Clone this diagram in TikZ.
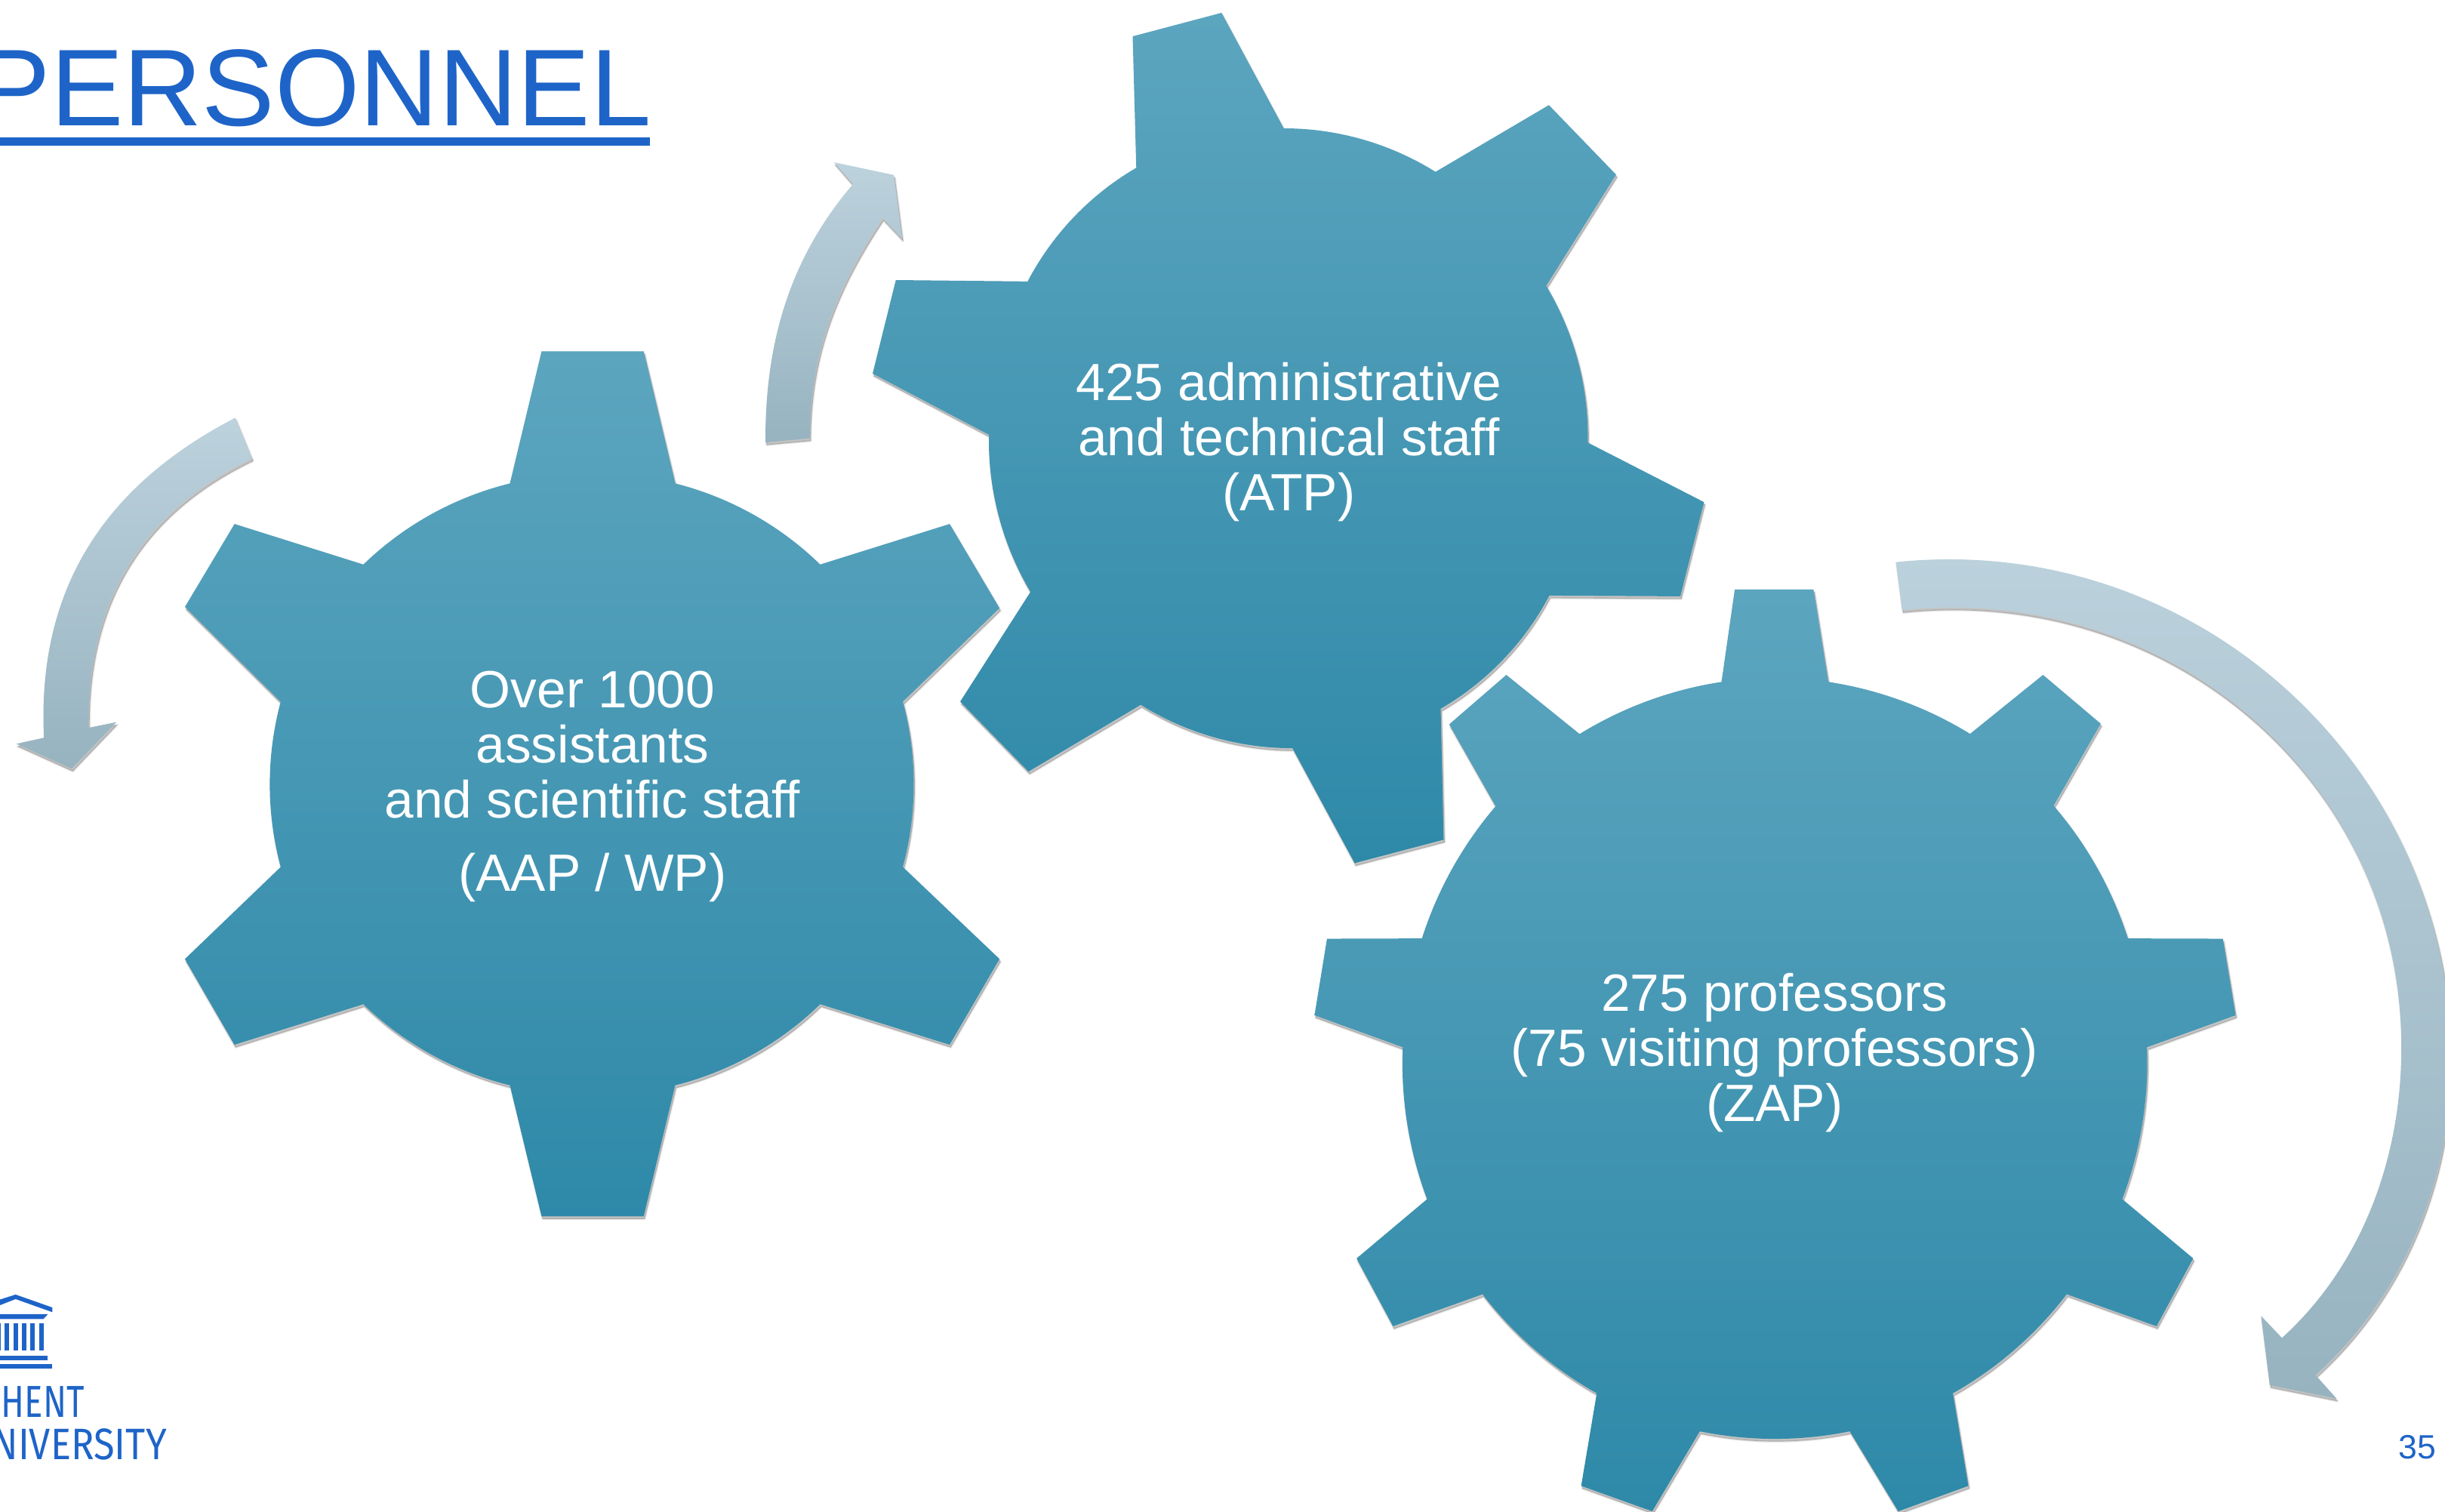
\documentclass[tikz,border=0pt]{standalone}
\usepackage{fontspec}
\setmainfont{Liberation Sans}
\newfontfamily\logofont{Fira Sans}
\definecolor{ugblue}{HTML}{1E64C8}
\definecolor{gtop}{HTML}{5CA5BF}
\definecolor{gmid}{HTML}{399ABB}
\definecolor{gbot}{HTML}{2E89A8}
\definecolor{atop}{HTML}{BCD2DD}
\definecolor{amid}{HTML}{AFC9D6}
\definecolor{abot}{HTML}{97B3C0}
\tikzset{
  arcA/.style={bend left=15,looseness=.87},
  arcB/.style={bend left=16,looseness=.87},
  arcC/.style={bend left=11.5,looseness=.86},
  gearfill/.style={top color=gtop,middle color=gmid,bottom color=gbot,draw=none},
  arrowfill/.style={top color=atop,middle color=amid,bottom color=abot,draw=none},
  gearlabel/.style={text=white,align=center,inner sep=0pt,font=\fontsize{16.8}{17.6}\selectfont},
  logopart/.style={fill=ugblue,draw=none},
}
\newcommand{\softshadow}[1]{%
  \begin{scope}[xshift=.35pt,yshift=-.85pt,line join=round]
    \filldraw[black,opacity=.05,line width=.8pt] #1;
    \filldraw[black,opacity=.08,line width=.4pt] #1;
    \fill[black,opacity=.12] #1;
  \end{scope}}
\def\gearA{(347.3,225.3) -- (412.8,225.3) -- (433,310) to[arcA] (526,362) -- (609,336) -- (641,390) -- (579,450) to[arcA] (579,556) -- (641,615) -- (609,670) -- (526,644) to[arcA] (433,696) -- (412.8,780) -- (347.3,780) -- (327,696) to[arcA] (233,644) -- (150.4,670) -- (118.6,615) -- (180,556) to[arcA] (180,450) -- (118.6,389.2) -- (150.4,336) -- (233,362) to[arcA] (327,310) -- cycle}
\def\gearB{(726.4,23.3) -- (783.4,8.2) -- (823.3,82.3) to[arcB] (920.6,110.2) -- (993.3,67.4) -- (1036.4,112) -- (991.6,183.3) to[arcB] (1018.2,283.8) -- (1092.8,322) -- (1077.6,382.4) -- (993.6,381.9) to[arcB] (923.9,454.5) -- (925.8,538.5) -- (868.8,553.5) -- (828.9,479.8) to[arcB] (731.6,452) -- (659.6,494.8) -- (615.8,449.9) -- (660.9,379.5) to[arcB] (634.2,278.8) -- (559.6,239.6) -- (574.5,179.6) -- (659,180.5) to[arcB] (728.7,107.6) -- cycle}
\def\gearC{(1112.5,378) -- (1163,378) -- (1172.5,437.3) to[arcC] (1263.4,470.6) -- (1310.2,432.8) -- (1347.2,464.1) -- (1317,516.7) to[arcC] (1364.6,601.8) -- (1425.5,602) -- (1433.7,651.1) -- (1376.8,671.6) to[arcC] (1361,769) -- (1406.5,807) -- (1383,850.5) -- (1325.4,830) to[arcC] (1252.4,893.5) -- (1262.3,952.9) -- (1217.4,969.2) -- (1186.3,917.9) to[arcC] (1090.1,917.9) -- (1059.6,969.2) -- (1014,952.9) -- (1024,893.5) to[arcC] (950.8,830) -- (893.4,850.5) -- (870,807) -- (915.2,769) to[arcC] (899.6,671.6) -- (843,651.1) -- (851,602) -- (911.9,601.8) to[arcC] (959.2,517) -- (929.4,464.5) -- (966,432.8) -- (1013,470.7) to[arcC] (1104,437.3) -- cycle}
\def\arrowA{(150.9,267.9) .. controls (66.6,311.6) and (23.5,378) .. (28.2,473.1) -- (10.5,477) -- (46,493) -- (74.6,463.1) -- (56.8,466.7) .. controls (55.6,386.7) and (89.7,328.4) .. (161.7,294) -- cycle}
\def\arrowB{(490.9,283.7) .. controls (490.5,220.7) and (506,166) .. (547,118.1) -- (534.9,104.1) -- (573.2,112.2) -- (578.5,153) -- (566,139.8) .. controls (536,184.8) and (519.3,227) .. (519.3,281.1) -- cycle}
\def\arrowC{(1215.8,360.5) .. controls (1405.9,340.5) and (1572,489) .. (1572,680) .. controls (1572,756.5) and (1541.6,830.6) .. (1485,881.9) -- (1498.4,896.9) -- (1455.6,888.3) -- (1450,843.9) -- (1463.4,858) .. controls (1515.2,811) and (1540,742) .. (1540,672) .. controls (1540,500) and (1390.9,373.3) .. (1219.8,391.3) -- cycle}
\begin{document}
\begin{tikzpicture}[x=.5pt,y=-.5pt]
\useasboundingbox (0,0) rectangle (1568,969.2);
\clip (0,0) rectangle (1568,969.2);
% arrows
\softshadow{\arrowA}
\shade[arrowfill] \arrowA;
\softshadow{\arrowB}
\shade[arrowfill] \arrowB;
\softshadow{\arrowC}
\shade[arrowfill] \arrowC;
% gears
\softshadow{\gearA}
\shade[gearfill] \gearA;
\softshadow{\gearB}
\shade[gearfill] \gearB;
\softshadow{\gearC}
\shade[gearfill] \gearC;
% gear labels
\node[gearlabel] (gearAtext) at (380,504.5) {Over 1000\\assistants\\and scientific staff\\[5.9pt](AAP / WP)};
\node[gearlabel] (gearBtext) at (826.5,283.5) {425 administrative\\and technical staff\\(ATP)};
\node[gearlabel] (gearCtext) at (1138,675) {275 professors\\(75 visiting professors)\\(ZAP)};
% title
\node[anchor=base east,inner sep=0pt,text=ugblue,font=\fontsize{35}{35}\selectfont] (title) at (418,80.4) {PERSONNEL};
\fill[ugblue] (0,87.9) rectangle (416.8,93.2);
% page number
\node[anchor=base east,inner sep=0pt,text=ugblue,font=\fontsize{10.8}{11}\selectfont] (pagenum) at (1562.5,935.3) {35};
% logo
\fill[logopart] (0,833.4) -- (10,830.2) -- (33.6,838.5) -- (33.6,841.5) -- (10,833.1) -- (0,837) -- cycle;
\fill[logopart] (0,842.8) -- (30.7,842.8) -- (27.8,845.9) -- (0,845.9) -- cycle;
\foreach \cx in {-2.4,2.9,8.6,14,19.5,25}{\fill[logopart] (\cx,848.5) rectangle +(2.9,17.7);}
\fill[logopart] (0,869.3) rectangle (30.7,872.2);
\fill[logopart] (0,874.8) rectangle (33.6,877.6);
\node[anchor=north west,inner sep=0pt,text=ugblue] (logoA) at (0.5,888.5) {\resizebox{26.6pt}{9.9pt}{\logofont HENT}};
\node[anchor=north east,inner sep=0pt,text=ugblue] (logoB) at (107.3,916) {\resizebox{56pt}{9.9pt}{\logofont NIVERSITY}};
\end{tikzpicture}
\end{document}
